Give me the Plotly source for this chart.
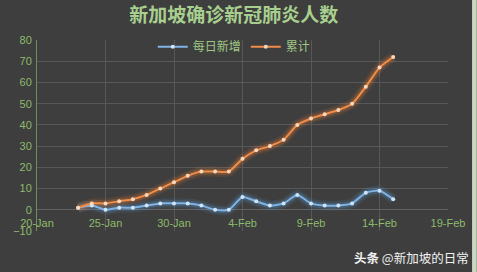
import plotly.graph_objects as go
import pandas as pd

dates = pd.date_range("2020-01-23", "2020-02-15").strftime("%Y-%m-%d").tolist()
daily_new = [1, 2, 0, 1, 1, 2, 3, 3, 3, 2, 0, 0, 6, 4, 2, 3, 7, 3, 2, 2, 3, 8, 9, 5]
cumulative = [1, 3, 3, 4, 5, 7, 10, 13, 16, 18, 18, 18, 24, 28, 30, 33, 40, 43, 45, 47, 50, 58, 67, 72]
series_names = ["每日新增", "累计"]
title_text = "新加坡确诊新冠肺炎人数"
watermark = "<b>头条</b> @新加坡的日常"

blue = "#5b9bd5"
orange = "#ed7d31"
green_text = "#8dbb6c"
bg = "#3e3e3e"
font_cjk = "Noto Sans CJK SC"

fig = go.Figure()

# glow layers
for vals, col in [(daily_new, blue), (cumulative, orange)]:
    for w, op in [(10, 0.12), (6, 0.22)]:
        fig.add_trace(go.Scatter(
            x=dates, y=vals, mode="lines", line=dict(color=col, width=w, shape="spline", smoothing=0.6),
            opacity=op, showlegend=False, hoverinfo="skip"))

fig.add_trace(go.Scatter(
    x=dates, y=daily_new, name=series_names[0], mode="lines+markers",
    line=dict(color="#7fb3e6", width=2, shape="spline", smoothing=0.6),
    marker=dict(size=4, color="#d0e4f7")))
fig.add_trace(go.Scatter(
    x=dates, y=cumulative, name=series_names[1], mode="lines+markers",
    line=dict(color="#f08d48", width=2, shape="spline", smoothing=0.6),
    marker=dict(size=4, color="#f7d8c0")))

fig.update_layout(
    width=477, height=272,
    margin=dict(l=37, r=27, t=40, b=41),
    paper_bgcolor=bg, plot_bgcolor=bg,
    font=dict(family=font_cjk, color=green_text, size=11),
    title=dict(text=f"<b>{title_text}</b>", x=0.49, xanchor="center", y=0.945, yanchor="middle",
               font=dict(size=19, color="#a8cf8e", family=font_cjk)),
    legend=dict(orientation="h", x=0.48, xanchor="center", y=0.965, yanchor="middle",
                bgcolor="rgba(0,0,0,0)", font=dict(size=12, color="#9fc784", family=font_cjk),
                itemwidth=30),
    showlegend=True,
)

fig.update_xaxes(
    type="date", range=["2020-01-20", "2020-02-19"],
    tick0="2020-01-20", dtick=5 * 86400000, tickformat="%-d-%b",
    showgrid=True, gridcolor="#585858", gridwidth=1,
    anchor="free", position=10 / 90,
    ticks="outside", ticklen=3, tickcolor="rgba(0,0,0,0)",
    tickfont=dict(size=11, color=green_text, family="Liberation Sans"),
    showline=False, zeroline=False,
)
fig.update_yaxes(
    range=[-10, 80], dtick=10,
    showgrid=True, gridcolor="#585858", gridwidth=1,
    zeroline=True, zerolinecolor="#626262", zerolinewidth=1,
    showline=True, linecolor="#6f8f5f", linewidth=1,
    tickfont=dict(size=11, color=green_text, family="Liberation Sans"),
    ticks="outside", ticklen=2, tickcolor="rgba(0,0,0,0)",
)

fig.add_annotation(text=watermark, xref="paper", yref="paper", x=1.057, xanchor="right",
                   y=-0.14, yanchor="middle", showarrow=False,
                   font=dict(size=12.5, color="#f2f2f2", family=font_cjk))
fig.add_shape(type="rect", xref="paper", yref="paper", x0=1.0585, x1=1.07, y0=-0.3, y1=1.3,
              fillcolor="#c9d6c2", line=dict(width=0), layer="above")

fig.write_html("out.html")
